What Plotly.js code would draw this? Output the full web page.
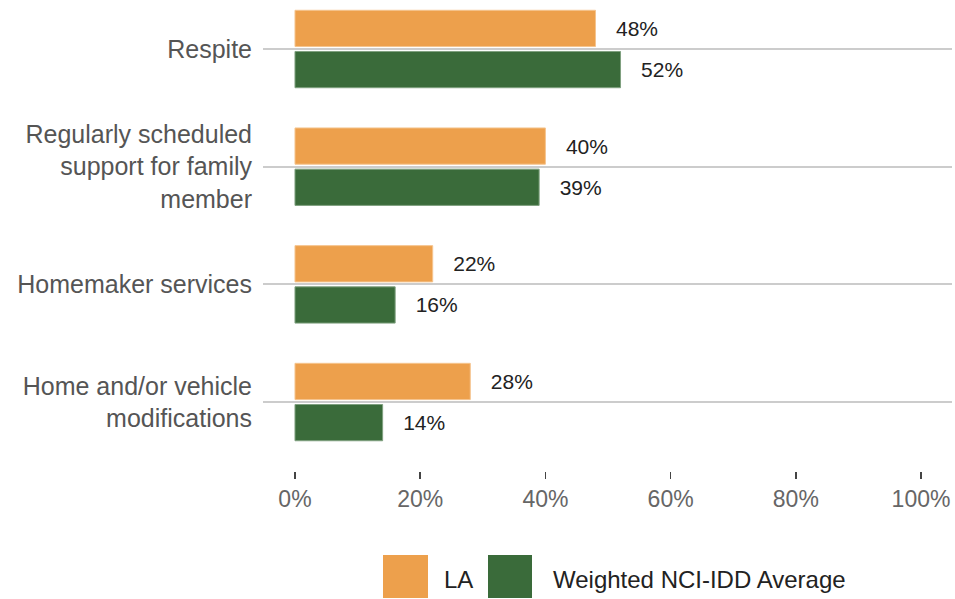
<!DOCTYPE html>
<html>
<head>
<meta charset="utf-8">
<script src="https://cdn.plot.ly/plotly-3.0.1.min.js"></script>
<style>html,body{margin:0;padding:0;background:#fff;}#chart{width:955px;height:599px;}</style>
</head>
<body>
<div id="chart"></div>
<script>
const categories = ["Respite", "Regularly scheduled<br>support for family<br>member", "Homemaker services", "Home and/or vehicle<br>modifications"];
const seriesNames = ["LA", "Weighted NCI-IDD Average"];
const laValues = [48, 40, 22, 28];
const nciValues = [52, 39, 16, 14];
const tickVals = [0, 20, 40, 60, 80, 100];
const tickText = ["0%", "20%", "40%", "60%", "80%", "100%"];
const colors = ["#EDA04C", "#3A6B3A"];
const borderColors = ["#F5C48E", "#7FA07F"];

const FONT = "Arial, 'Liberation Sans', sans-serif";
const pad = "\u00a0\u00a0\u00a0";

function barTrace(name, vals, i) {
  return {
    type: "bar", orientation: "h", name: name,
    y: categories, x: vals,
    marker: {color: colors[i], line: {color: borderColors[i], width: 1}},
    text: vals.map(v => pad + v + "%"),
    textposition: "outside", cliponaxis: false,
    textfont: {family: FONT, size: 21, color: "#222"},
    hoverinfo: "x+y", showlegend: false
  };
}

const W = 955, H = 599, L = 263, R = 3, T = 0, B = 128;
const pw = W - L - R, ph = H - T - B;
const px = x => (x - L) / pw;
const py = y => (H - B - y) / ph;

const legendItems = [
  {x0: 383, x1: 428, tx: 442, name: seriesNames[0], color: colors[0]},
  {x0: 488, x1: 532, tx: 551, name: seriesNames[1], color: colors[1]}
];

const layout = {
  width: W, height: H,
  margin: {l: L, r: R, t: T, b: B},
  paper_bgcolor: "#fff", plot_bgcolor: "#fff",
  barmode: "group", bargap: 0.3, bargroupgap: 0.12,
  font: {family: FONT},
  xaxis: {
    range: [-5.11, 104.95], tickvals: tickVals, ticktext: tickText,
    showgrid: false, zeroline: false, showline: false,
    ticks: "outside", ticklen: 7, tickwidth: 1.5, tickcolor: "#444",
    tickfont: {family: FONT, size: 23, color: "#666"}
  },
  yaxis: {
    type: "category", range: [3.586, -0.4164],
    showgrid: true, gridcolor: "#CCCCCC", gridwidth: 2,
    zeroline: false, showline: false, ticks: "",
    ticklabelstandoff: 10,
    tickfont: {family: FONT, size: 25, color: "#555"}
  },
  shapes: legendItems.map(it => ({
    type: "rect", xref: "paper", yref: "paper",
    x0: px(it.x0), x1: px(it.x1), y0: py(598), y1: py(555),
    fillcolor: it.color, line: {width: 0}
  })),
  annotations: legendItems.map(it => ({
    xref: "paper", yref: "paper", x: px(it.tx), y: py(579),
    xanchor: "left", yanchor: "middle", showarrow: false,
    text: it.name, font: {family: FONT, size: 24, color: "#222"}
  }))
};

Plotly.newPlot("chart", [barTrace(seriesNames[0], laValues, 0), barTrace(seriesNames[1], nciValues, 1)], layout, {displayModeBar: false, staticPlot: true});
</script>
</body>
</html>
